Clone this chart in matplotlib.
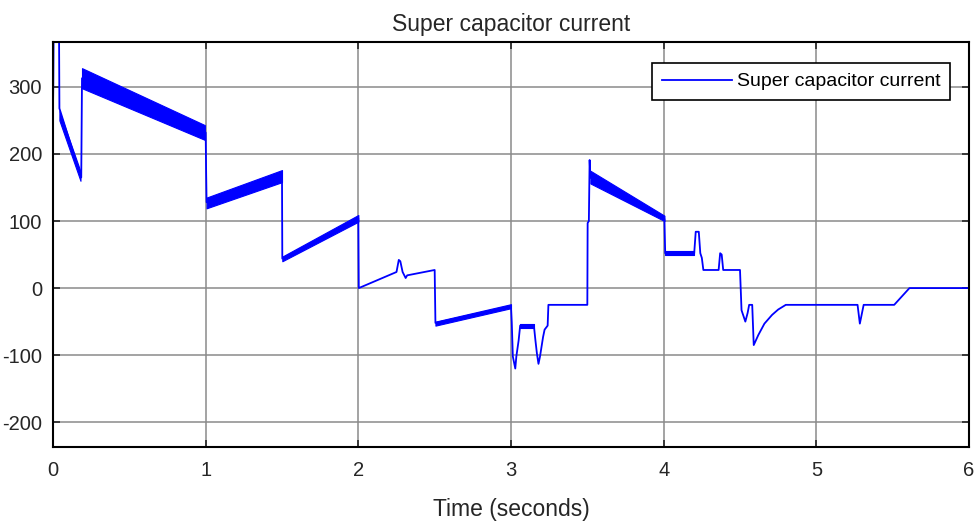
"""
supercap_current.py

Super capacitor current vs time, redrawn in the style of a MATLAB scope plot.
"""

import matplotlib
matplotlib.use("Agg")
import matplotlib.pyplot as plt

plt.rcParams['font.family'] = ['Liberation Sans', 'DejaVu Sans']
plt.rcParams['axes.unicode_minus'] = False

# main trace (centre line)
time_s = [0.0, 0.002, 0.006, 0.038, 0.042, 0.18, 0.185, 0.19, 0.995, 1.0, 1.003, 1.006,
          1.5, 1.502, 2.0, 2.003, 2.25, 2.265, 2.275, 2.29, 2.31, 2.32, 2.50, 2.505,
          3.0, 3.005, 3.012, 3.028, 3.035, 3.05, 3.06, 3.15, 3.16, 3.17, 3.18, 3.19,
          3.21, 3.22, 3.24, 3.245, 3.50, 3.502, 3.51, 3.515, 3.52, 4.005, 4.01, 4.20,
          4.21, 4.23, 4.24, 4.25, 4.26, 4.36, 4.37, 4.38, 4.39, 4.50, 4.51, 4.535,
          4.55, 4.56, 4.58, 4.59, 4.62, 4.66, 4.71, 4.75, 4.80, 5.27, 5.285, 5.31,
          5.51, 5.61, 6.0]
current_a = [270, 305, 450, 450, 268, 168, 165, 313, 232, 232, 174, 128,
             167, 44, 104, 0, 24, 42, 40, 24, 15, 19, 27, -52,
             -27, -51, -102, -120, -102, -78, -56, -56, -78, -98, -113, -102,
             -73, -62, -56, -25, -25, 97, 100, 191, 165, 103, 52, 52,
             84, 84, 52, 45, 27, 27, 52, 50, 27, 27, -33, -50,
             -37, -25, -25, -85, -70, -53, -40, -32, -25, -25, -53, -25,
             -25, 0, 0]

# ripple envelopes (thick parts of the trace)
ripple_t = [[0.042, 0.18], [0.19, 0.995], [1.006, 1.5], [1.502, 2.0],
            [2.505, 3.0], [3.06, 3.15], [3.52, 4.005], [4.01, 4.20]]
ripple_lo = [[250, 160], [298, 221], [119, 158], [40, 99],
             [-56, -30], [-59, -59], [156, 100], [49, 49]]
ripple_hi = [[264, 174], [328, 243], [135, 176], [47, 109],
             [-50, -24], [-53, -53], [175, 108], [55, 55]]

x_ticks = [0, 1, 2, 3, 4, 5, 6]
y_ticks = [-200, -100, 0, 100, 200, 300]

blue = '#0000ff'

fig = plt.figure(figsize=(9.79, 5.22), dpi=100)
ax = fig.add_axes([53 / 979, 1 - 447 / 522, 916 / 979, 405 / 522])

ax.plot(time_s, current_a, color=blue, lw=1.3, label='Super capacitor current')
for t, lo, hi in zip(ripple_t, ripple_lo, ripple_hi):
    ax.fill_between(t, lo, hi, color=blue, lw=0.8)

ax.set_xlim(0, 6)
ax.set_ylim(-237, 367)
ax.set_xticks(x_ticks)
ax.set_yticks(y_ticks)
ax.grid(True, color='#8a8a8a', lw=1.1)
ax.set_axisbelow(True)
ax.tick_params(direction='in', length=5, width=1.2, top=True, right=True,
               labelsize=14.5, colors='#262626', pad=10)
ax.tick_params(axis='y', pad=8)
for s in ax.spines.values():
    s.set_linewidth(1.5)
    s.set_color('black')

ax.set_title('Super capacitor current', fontsize=16.5, color='#262626', pad=8)
ax.set_xlabel('Time (seconds)', fontsize=16.5, color='#262626', labelpad=13)

# legend box sits inside the upper right corner
leg = ax.legend(loc='upper right', bbox_to_anchor=(950 / 979, 1 - 63 / 522),
                bbox_transform=fig.transFigure, fontsize=14, frameon=True,
                fancybox=False, handlelength=3.6, borderpad=0.5,
                handletextpad=0.25, borderaxespad=0)
leg.get_frame().set_edgecolor('black')
leg.get_frame().set_linewidth(1.2)
leg.get_frame().set_alpha(1)

fig.savefig('out.png', dpi=100)
